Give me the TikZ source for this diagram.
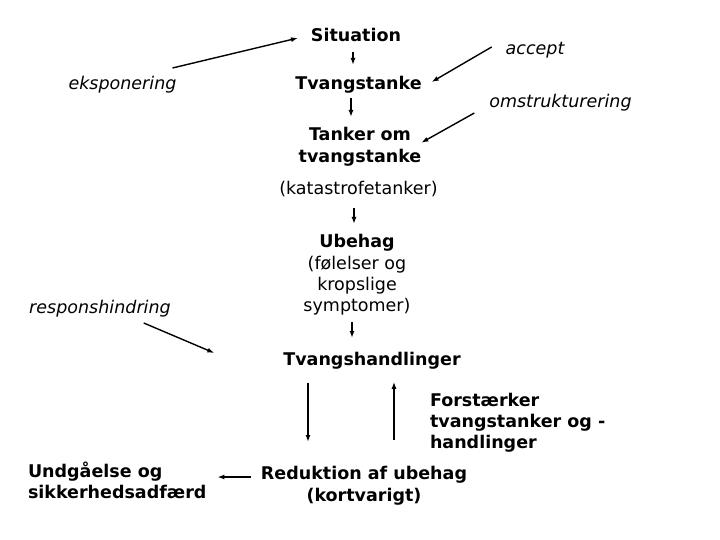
\documentclass[tikz,border=0pt]{standalone}
\usepackage{fontspec}
\setmainfont{DejaVu Sans}
\usetikzlibrary{arrows.meta}
\begin{document}
\begin{tikzpicture}[x=1pt,y=-1pt,
  every node/.style={inner sep=0pt, outer sep=0pt, font=\fontsize{17.5}{21.2}\selectfont},
  bt/.style={font=\fontsize{17.5}{21.2}\selectfont\bfseries},
  it/.style={font=\fontsize{17.5}{21.2}\selectfont\itshape},
  arr/.style={line width=1.4pt, -{Latex[length=7pt,width=5pt]}}]
\useasboundingbox[fill=white] (0,0) rectangle (720,540);
% nodes
\node[bt, anchor=base] (sit) at (356,42) {Situation};
\node[bt, anchor=base] (tv) at (358.5,90) {Tvangstanke};
\node[it, anchor=base] (ek) at (122.5,90) {eksponering};
\node[it, anchor=base] (acc) at (535,55) {accept};
\node[it, anchor=base] (omst) at (560.5,108) {omstrukturering};
\node[bt, anchor=north, align=center] (tank) at (360,127.7) {Tanker om\\tvangstanke};
\node[anchor=base] (kat) at (358.5,195) {(katastrofetanker)};
\node[anchor=north, align=center] (ube) at (357,234.7) {\textbf{Ubehag}\\(følelser og\\kropslige\\symptomer)};
\node[it, anchor=base] (resp) at (100,313) {responshindring};
\node[bt, anchor=base] (tvh) at (372,365) {Tvangshandlinger};
\node[bt, anchor=north west, align=left] (fors) at (430,393.2) {Forstærker\\tvangstanker og -\\handlinger};
\node[bt, anchor=north, align=center] (red) at (364,466.7) {Reduktion af ubehag\\(kortvarigt)};
\node[bt, anchor=north west, align=left] (und) at (28,461.7) {Undgåelse og\\sikkerhedsadfærd};
% connectors
\draw[arr] ([xshift=-4pt,yshift=22pt]ek.base east) -- ([xshift=-13pt,yshift=4pt]sit.base west);
\draw[arr] ([xshift=-3pt,yshift=-10pt]sit.base) -- ([xshift=-5.5pt,yshift=25pt]tv.base);
\draw[arr] ([xshift=-7.5pt,yshift=-8pt]tv.base) -- ([xshift=-9pt,yshift=10.7pt]tank.north);
\draw[arr] ([xshift=-14pt,yshift=8pt]acc.base west) -- ([xshift=10pt,yshift=8pt]tv.base east);
\draw[arr] ([xshift=-15pt,yshift=-5pt]omst.base west) -- ([yshift=-15pt]tank.north east);
\draw[arr] ([xshift=-4.5pt,yshift=-13pt]kat.base) -- ([xshift=-3pt,yshift=10.7pt]ube.north);
\draw[arr] ([xshift=-5pt,yshift=-7pt]ube.south) -- ([xshift=-20pt,yshift=13.7pt]tvh.north);
\draw[arr] ([xshift=-27pt,yshift=-10pt]resp.base east) -- ([xshift=-69pt,yshift=12pt]tvh.base west);
\draw[arr] ([xshift=-64pt,yshift=-14pt]tvh.south) -- ([xshift=-56pt,yshift=24.7pt]red.north);
\draw[arr] ([xshift=30pt,yshift=26.7pt]red.north) -- ([xshift=22pt,yshift=-13pt]tvh.south);
\draw[arr] ([xshift=-10pt,yshift=-10.3pt]red.north west) -- ([xshift=11pt,yshift=-15.3pt]und.north east);
\end{tikzpicture}
\end{document}
